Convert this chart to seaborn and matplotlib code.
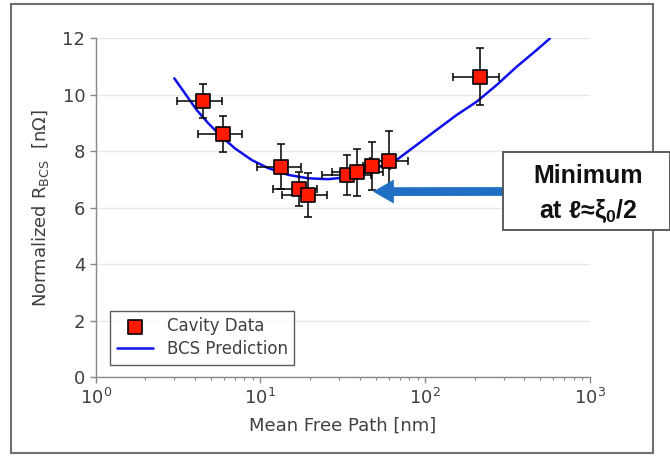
import numpy as np
import pandas as pd
import matplotlib
matplotlib.use("Agg")
import matplotlib.pyplot as plt
from matplotlib.patches import Rectangle
from matplotlib.ticker import LogLocator, LogFormatterSciNotation
import seaborn as sns

# cavity data (mean free path [nm], normalized R_BCS [nOhm])
mfp = [4.46, 5.95, 13.4, 17.2, 19.5, 33.3, 38.7, 47.3, 60.2, 215]
rbcs = [9.79, 8.61, 7.46, 6.68, 6.46, 7.17, 7.26, 7.48, 7.66, 10.65]
mfp_lo = [3.13, 4.20, 9.48, 11.9, 13.6, 23.5, 27.0, 41.9, 46.2, 148]
mfp_hi = [5.82, 7.69, 17.6, 21.9, 25.4, 47.0, 55.4, 61.0, 78.9, 280]
rbcs_err = [0.60, 0.64, 0.80, 0.60, 0.78, 0.72, 0.84, 0.85, 1.08, 1.02]

# BCS prediction curve, read point by point
bcs_x = [3.00, 3.48, 4.10, 4.82, 5.82, 7.00, 8.84, 11.15, 14.8, 19.5, 25.8,
         32.6, 42.1, 67.0, 88.7, 117, 155, 205, 271, 359, 474, 571]
bcs_y = [10.59, 10.06, 9.47, 9.00, 8.52, 8.11, 7.70, 7.41, 7.17, 7.05, 7.02,
         7.08, 7.23, 7.70, 8.23, 8.76, 9.29, 9.76, 10.35, 11.00, 11.59, 12.00]

df = pd.DataFrame({'mfp': mfp, 'rbcs': rbcs})
curve = pd.DataFrame({'x': bcs_x, 'y': bcs_y})

sns.set_style("white")
plt.rcParams['font.family'] = ['DejaVu Sans']
plt.rcParams['mathtext.default'] = 'regular'
grey = '#404040'

fig = plt.figure(figsize=(6.7, 4.57), dpi=100)
ax = fig.add_axes([0.1428, 0.174, 0.7378, 0.7418])

sns.lineplot(data=curve, x='x', y='y', ax=ax, color='#1010ee', lw=1.8,
             label='BCS Prediction', zorder=2)

xerr = np.array([np.array(mfp) - np.array(mfp_lo), np.array(mfp_hi) - np.array(mfp)])
ax.errorbar(mfp, rbcs, yerr=rbcs_err, xerr=xerr, fmt='none', ecolor='black',
            elinewidth=1.1, capsize=3, capthick=1.1, zorder=3)
sns.scatterplot(data=df, x='mfp', y='rbcs', ax=ax, marker='s', s=90,
                color='#ff1a00', edgecolor='black', linewidth=1.2,
                label='Cavity Data', zorder=4)

ax.set_xscale('log')
ax.set_xlim(1, 1000)
ax.set_ylim(0, 12)
ax.set_yticks(range(0, 13, 2))
ax.xaxis.set_major_locator(LogLocator(base=10))
ax.xaxis.set_minor_locator(LogLocator(base=10, subs=np.arange(2, 10)))
ax.xaxis.set_major_formatter(LogFormatterSciNotation())
ax.yaxis.grid(True, color='#e8e8e8', lw=1)
ax.xaxis.grid(False)
for s in ['top', 'right']:
    ax.spines[s].set_visible(False)
for s in ['left', 'bottom']:
    ax.spines[s].set_color('#888888')
    ax.spines[s].set_linewidth(1)
ax.tick_params(axis='both', which='major', direction='out', length=4, width=1,
               color='#888888', labelsize=13, labelcolor=grey, bottom=True, left=True)
ax.tick_params(axis='x', which='minor', direction='out', length=2.5, width=0.8,
               color='#888888', bottom=True)
ax.set_xlabel('Mean Free Path [nm]', fontsize=13, color=grey, labelpad=6)
ax.set_ylabel('Normalized R$_{BCS}$  [nΩ]', fontsize=13, color=grey, labelpad=8)

handles, labels = ax.get_legend_handles_labels()
order = [labels.index('Cavity Data'), labels.index('BCS Prediction')]
leg = ax.legend([handles[i] for i in order], [labels[i] for i in order],
                loc='lower left', bbox_to_anchor=(0.029, 0.037), borderaxespad=0,
                fontsize=12, frameon=True, fancybox=False, edgecolor='#333333',
                handlelength=2.2, borderpad=0.4, labelspacing=0.3)
leg.get_frame().set_linewidth(1)
for t in leg.get_texts():
    t.set_color(grey)

# outer frame of the slide picture
fig.patches.append(Rectangle((11 / 670, 4 / 457), 642 / 670, 449 / 457,
                             transform=fig.transFigure, fill=False,
                             edgecolor='#707070', lw=1.5, zorder=0))

# annotation box and arrow
fig.patches.append(Rectangle((503 / 670, 227 / 457), 167 / 670, 78 / 457,
                             transform=fig.transFigure, facecolor='white',
                             edgecolor='#505050', lw=1.3, zorder=5))
fig.text(588 / 670, 1 - 176 / 457, 'Minimum', ha='center', va='center',
         fontsize=18, fontweight='bold', family=['Liberation Sans', 'DejaVu Sans'],
         color='#111111', zorder=6)
fig.text(588 / 670, 1 - 211 / 457, 'at ℓ≈ξ$_0$/2', ha='center', va='center',
         fontsize=18, fontweight='bold', family=['Liberation Sans', 'DejaVu Sans'],
         color='#111111', zorder=6)
ax.annotate('', xy=(48.2, 6.58), xycoords='data',
            xytext=(503 / 670, 1 - 191.5 / 457), textcoords='figure fraction',
            arrowprops=dict(arrowstyle='simple,head_width=1.15,head_length=1.0,tail_width=0.42',
                            mutation_scale=15, color='#1f6fc2', lw=0, shrinkA=0, shrinkB=0),
            annotation_clip=False, zorder=5)

fig.savefig('out.png', dpi=100)
